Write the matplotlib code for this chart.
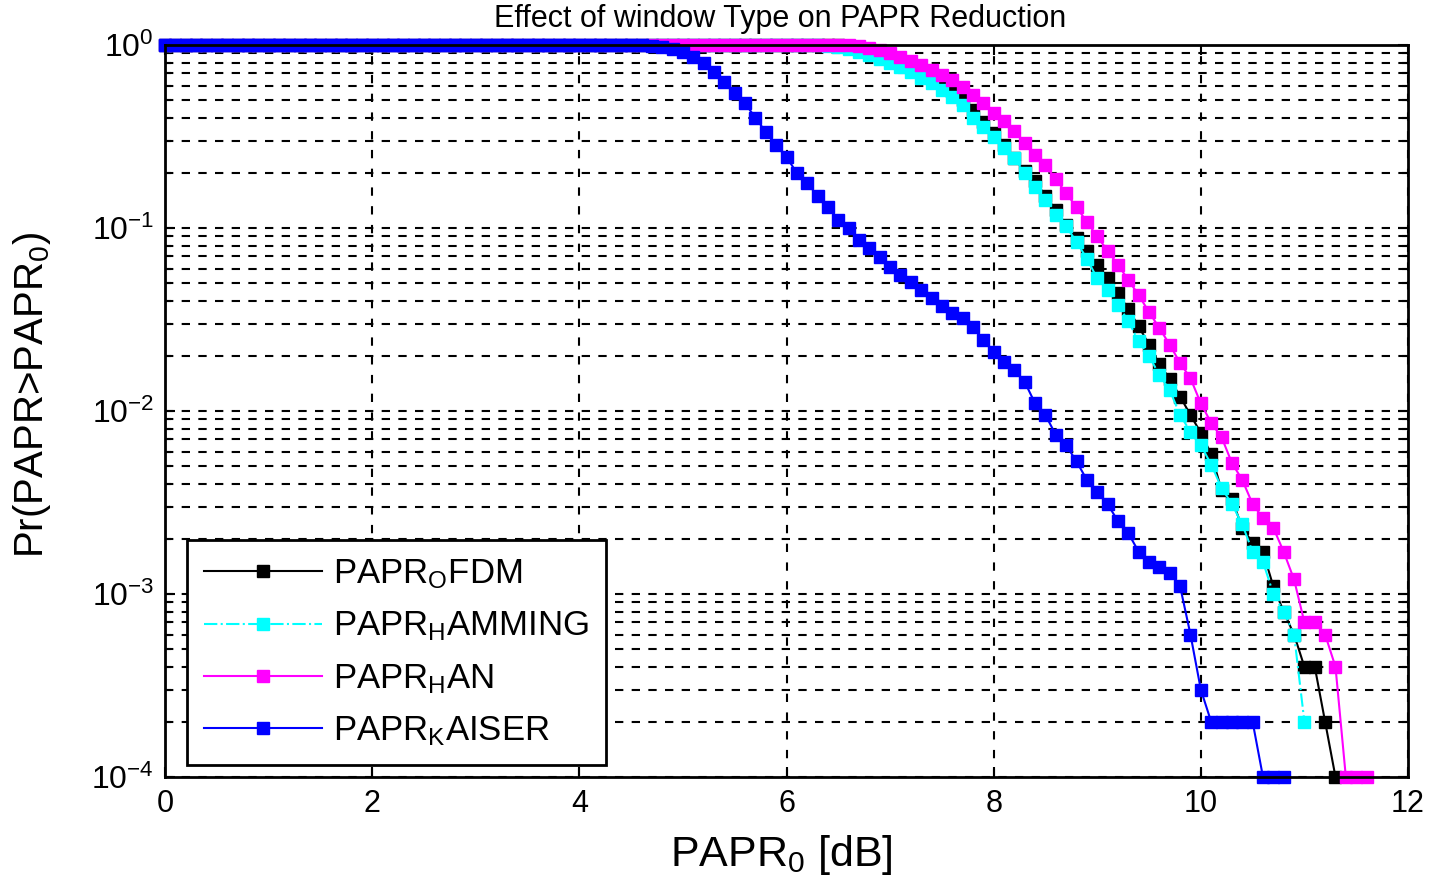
import numpy as np
import matplotlib
matplotlib.use("Agg")
import matplotlib.pyplot as plt

plt.rcParams["font.family"] = ["Liberation Sans", "DejaVu Sans"]
plt.rcParams["mathtext.fontset"] = "custom"
plt.rcParams["mathtext.rm"] = "Liberation Sans"
plt.rcParams["mathtext.it"] = "Liberation Sans:italic"

# PAPR0 grid in dB (0.1 dB steps)
papr_db = np.round(np.arange(0, 11.75, 0.1), 1)

# CCDF values, one per grid point until the curve ends
ccdf_ofdm = [1.0] * 66 + [
    0.985, 0.96, 0.93,
    0.90, 0.86, 0.81, 0.775, 0.725, 0.68, 0.62, 0.56, 0.50, 0.44,
    0.38, 0.33, 0.285, 0.24, 0.205, 0.18, 0.15, 0.125, 0.104, 0.088,
    0.075, 0.063, 0.053, 0.044, 0.036, 0.029, 0.023, 0.018, 0.015, 0.012,
    0.0095, 0.0076, 0.0058, 0.0037, 0.0033, 0.0023, 0.0019, 0.0017, 0.0011, 0.0008,
    0.0006, 0.0004, 0.0004, 0.0002, 0.0001,
]
ccdf_hamming = [1.0] * 63 + [
    0.995, 0.985, 0.97, 0.95, 0.92, 0.88, 0.84,
    0.80, 0.76, 0.71, 0.66, 0.62, 0.57, 0.52, 0.47, 0.40, 0.356,
    0.314, 0.274, 0.241, 0.20, 0.168, 0.142, 0.118, 0.102, 0.084, 0.068,
    0.053, 0.046, 0.038, 0.031, 0.024, 0.020, 0.0157, 0.013, 0.0095, 0.0077,
    0.0065, 0.0051, 0.0038, 0.0031, 0.0024, 0.0017, 0.0015, 0.0010, 0.0008, 0.0006,
    0.0002,
]
ccdf_han = [1.0] * 67 + [
    0.985, 0.96, 0.935,
    0.905, 0.86, 0.815, 0.78, 0.735, 0.69, 0.64, 0.59, 0.53, 0.48,
    0.425, 0.385, 0.34, 0.29, 0.25, 0.22, 0.185, 0.155, 0.13, 0.108,
    0.09, 0.075, 0.063, 0.052, 0.043, 0.0347, 0.0284, 0.023, 0.0183, 0.0151,
    0.011, 0.0086, 0.0072, 0.0052, 0.0042, 0.0031, 0.0026, 0.0023, 0.0017, 0.0012,
    0.0007, 0.0007, 0.0006, 0.0004, 0.0001, 0.0001, 0.0001,
]
ccdf_kaiser = [1.0] * 46 + [
    0.995, 0.99, 0.975, 0.95,
    0.916, 0.86, 0.80, 0.71, 0.63, 0.55, 0.48, 0.40, 0.335, 0.284,
    0.244, 0.20, 0.176, 0.15, 0.13, 0.11, 0.10, 0.086, 0.078, 0.0695,
    0.061, 0.0553, 0.0507, 0.0458, 0.0414, 0.0375, 0.0343, 0.0322, 0.0288, 0.0244,
    0.021, 0.0185, 0.0168, 0.0144, 0.011, 0.0095, 0.0074, 0.0065, 0.0053, 0.0042,
    0.0036, 0.0031, 0.0025, 0.00215, 0.0017, 0.0015, 0.0014, 0.0013, 0.0011, 0.0006,
    0.0003, 0.0002, 0.0002, 0.0002, 0.0002, 0.0002, 0.0001, 0.0001, 0.0001,
]

series = [
    (ccdf_ofdm, "black", "-", r"PAPR$_{\mathrm{O}}$FDM"),
    (ccdf_hamming, "#00FFFF", "-.", r"PAPR$_{\mathrm{H}}$AMMING"),
    (ccdf_han, "#FF00FF", "-", r"PAPR$_{\mathrm{H}}$AN"),
    (ccdf_kaiser, "#0000FF", "-", r"PAPR$_{\mathrm{K}}$AISER"),
]

fig = plt.figure(figsize=(14.29, 8.9), dpi=100)
ax = fig.add_axes([0.1155, 0.127, 0.8698, 0.8224])

for vals, col, ls, lab in series:
    n = len(vals)
    ax.semilogy(papr_db[:n], vals, color=col, linestyle=ls, linewidth=1.5,
                marker="s", markersize=8, markerfacecolor=col,
                markeredgecolor=col, label=lab, clip_on=False)

ax.set_xlim(0, 12)
ax.set_ylim(1e-4, 1)
ax.set_xticks([0, 2, 4, 6, 8, 10, 12])
ax.tick_params(axis="both", which="both", direction="in", top=True, right=True,
               width=1.5, colors="black")
ax.tick_params(axis="both", which="major", length=7)
ax.tick_params(axis="y", which="minor", length=4)
ax.tick_params(axis="x", labelsize=22, pad=9)
ax.tick_params(axis="y", labelsize=23, pad=8)

ax.grid(True, which="major", axis="x", color="black", linestyle=(0, (4, 5)), linewidth=1.5)
ax.grid(True, which="both", axis="y", color="black", linestyle=(0, (4, 4)), linewidth=1.5)
for sp in ax.spines.values():
    sp.set_linewidth(2)

fig.text(0.546, 1 - 27 / 890, "Effect of window Type on PAPR Reduction",
         fontsize=22, ha="center", va="baseline")
ax.set_xlabel(r"PAPR$_{\mathrm{0}}$ [dB]", fontsize=31)
ax.xaxis.set_label_coords(0.496, -0.107)
ax.xaxis.label.set_verticalalignment("center")
ax.set_ylabel(r"Pr(PAPR>PAPR$_{\mathrm{0}}$)", fontsize=29)
ax.yaxis.set_label_coords(-0.107, 0.522)
ax.yaxis.label.set_verticalalignment("center")

leg = ax.legend(loc="lower left", bbox_to_anchor=(0.0177, 0.0164), fontsize=25,
                handlelength=3.4, handletextpad=0.3, labelspacing=0.53,
                borderpad=0.5, borderaxespad=0, fancybox=False, framealpha=1,
                edgecolor="black")
leg.get_frame().set_linewidth(2)

fig.savefig("out.png", dpi=100)
